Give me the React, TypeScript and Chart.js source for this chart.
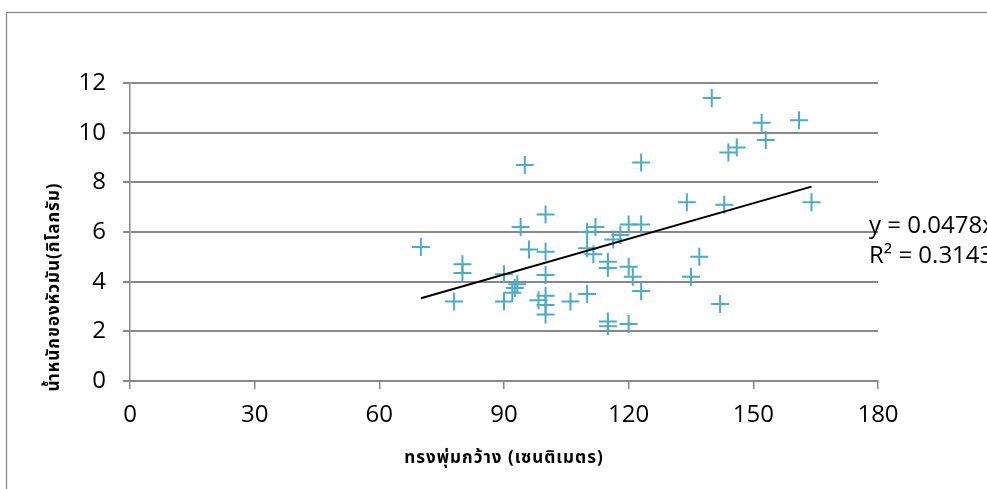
import { useEffect, useRef } from "react";
import { Chart, registerables } from "chart.js";

Chart.register(...registerables);

// Canopy width (cm) and tuber weight (kg) for each plant
const widthCm = [
  70, 78, 80, 80, 90, 90, 92, 92.6, 93.2, 94,
  95, 96, 98.3, 100, 100, 100, 100, 100, 100, 106,
  110, 110, 110, 111.5, 112, 115, 115, 115, 115, 116.3,
  118, 120, 120, 120, 121, 123, 123, 123, 134, 135,
  137, 140, 142, 143, 144, 146, 152, 153, 161, 164,
];
const weightKg = [
  5.4, 3.2, 4.7, 4.35, 4.3, 3.2, 3.55, 3.75, 3.9, 6.2,
  8.7, 5.3, 3.25, 6.7, 5.2, 4.27, 3.43, 3.06, 2.68, 3.2,
  3.5, 5.35, 6.0, 5.1, 6.2, 4.8, 4.55, 2.4, 2.2, 5.7,
  5.88, 6.3, 4.6, 2.3, 4.2, 6.3, 3.62, 8.8, 7.2, 4.2,
  5.0, 11.4, 3.1, 7.1, 9.2, 9.4, 10.4, 9.7, 10.5, 7.2,
];

const xTicks = [0, 30, 60, 90, 120, 150, 180];
const yTicks = [0, 2, 4, 6, 8, 10, 12];

// Linear trendline
const TREND_SLOPE = 0.0478;
const TREND_INTERCEPT = -0.0112;
const R_SQUARED = 0.3143;

const X_TITLE = "ทรงพุ่มกว้าง (เซนติเมตร)";
const Y_TITLE = "น้ำหนักของหัวมัน(กิโลกรัม)";

const GRID = "#878787";
const MARKER = "#4bacc6";
const TICK_FONT = "'Open Sans', 'Liberation Sans', sans-serif";
const THAI_FONT = "Tahoma, 'Noto Sans Thai', 'DejaVu Sans', 'Noto Sans', sans-serif";

const decorations = {
  id: "decorations",
  beforeDraw(chart: Chart) {
    const ctx = chart.ctx;
    ctx.save();
    ctx.strokeStyle = "#8a8a8a";
    ctx.lineWidth = 1.3;
    ctx.strokeRect(6.5, 12.5, chart.width + 20, chart.height + 20);
    ctx.restore();
  },
  afterDraw(chart: Chart) {
    const ctx = chart.ctx as any;
    const area = chart.chartArea;
    ctx.save();
    ctx.fillStyle = "#000";

    // y-axis title, rotated
    ctx.font = `bold 17px ${THAI_FONT}`;
    ctx.letterSpacing = "1px";
    ctx.textAlign = "center";
    ctx.textBaseline = "middle";
    ctx.translate(56, 287);
    ctx.rotate(-Math.PI / 2);
    ctx.fillText(Y_TITLE, 0, 0);
    ctx.setTransform(1, 0, 0, 1, 0, 0);

    // x-axis title
    ctx.fillText(X_TITLE, (area.left + area.right) / 2, 460);

    // trendline equation
    ctx.letterSpacing = "0px";
    const sign = TREND_INTERCEPT < 0 ? "-" : "+";
    ctx.font = `24px ${TICK_FONT}`;
    ctx.textAlign = "left";
    ctx.fillText(
      `y = ${TREND_SLOPE.toFixed(4)}x ${sign} ${Math.abs(TREND_INTERCEPT).toFixed(4)}`,
      869,
      226
    );
    ctx.fillText(`R² = ${R_SQUARED.toFixed(4)}`, 869, 256);
    ctx.restore();
  },
};

export default function App() {
  const canvasRef = useRef<HTMLCanvasElement | null>(null);

  useEffect(() => {
    document.body.style.margin = "0";
    document.body.style.overflow = "hidden";
    const canvas = canvasRef.current;
    if (!canvas) return;

    const xMin = Math.min(...widthCm);
    const xMax = Math.max(...widthCm);
    const points = widthCm.map((x, i) => ({ x, y: weightKg[i] }));
    const trend = [xMin, xMax].map((x) => ({ x, y: TREND_SLOPE * x + TREND_INTERCEPT }));

    const chart = new Chart(canvas, {
      type: "scatter",
      data: {
        datasets: [
          {
            label: "weight",
            data: points,
            pointStyle: "cross",
            pointRadius: 9,
            pointBorderWidth: 2,
            borderColor: MARKER,
            backgroundColor: MARKER,
            order: 1,
          },
          {
            type: "line",
            label: "trend",
            data: trend,
            borderColor: "#000",
            borderWidth: 2,
            pointRadius: 0,
            fill: false,
            order: 0,
          },
        ],
      },
      options: {
        animation: false,
        responsive: false,
        devicePixelRatio: 1,
        layout: { padding: { left: 0, top: 83, right: 109, bottom: 0 } },
        plugins: {
          legend: { display: false },
          tooltip: { enabled: false },
        },
        scales: {
          x: {
            type: "linear",
            min: xTicks[0],
            max: xTicks[xTicks.length - 1],
            afterBuildTicks: (scale: any) => {
              scale.ticks = xTicks.map((v) => ({ value: v }));
            },
            afterFit: (scale: any) => {
              scale.height = 108;
            },
            ticks: {
              color: "#000",
              font: { family: TICK_FONT, size: 24 },
              padding: 12,
              maxRotation: 0,
            },
            grid: {
              drawOnChartArea: false,
              drawTicks: true,
              tickLength: 8,
              color: GRID,
              lineWidth: 1.5,
            },
            border: { color: GRID, width: 1.5 },
          },
          y: {
            type: "linear",
            min: yTicks[0],
            max: yTicks[yTicks.length - 1],
            afterBuildTicks: (scale: any) => {
              scale.ticks = yTicks.map((v) => ({ value: v }));
            },
            afterFit: (scale: any) => {
              scale.width = 130;
            },
            ticks: {
              color: "#000",
              font: { family: TICK_FONT, size: 24 },
              padding: 17,
            },
            grid: {
              color: GRID,
              lineWidth: 2,
              tickLength: 7,
            },
            border: { color: GRID, width: 1.5 },
          },
        },
      },
      plugins: [decorations],
    });

    return () => chart.destroy();
  }, []);

  return (
    <canvas
      ref={canvasRef}
      width={987}
      height={489}
      style={{ display: "block", width: 987, height: 489 }}
    />
  );
}
